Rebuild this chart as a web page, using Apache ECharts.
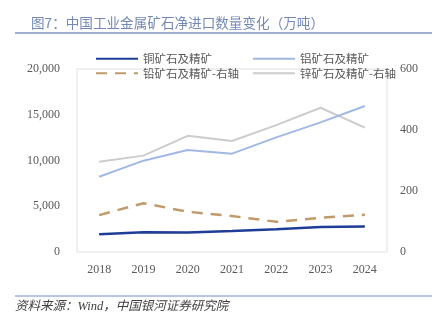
<!DOCTYPE html>
<html><head><meta charset="utf-8">
<script src="https://cdn.jsdelivr.net/npm/echarts@6/dist/echarts.min.js"></script>
<style>html,body{margin:0;padding:0;background:#fff}#c{width:438px;height:326px}</style>
</head><body><div id="c"></div>
<script>
const years = ['2018','2019','2020','2021','2022','2023','2024'];
const copper = [1950, 2150, 2140, 2300, 2480, 2730, 2780];
const aluminum = [8230, 9980, 11150, 10750, 12530, 14170, 15960];
const lead = [121, 160, 132, 118, 99, 112, 122];
const zinc = [296, 316, 381, 364, 416, 473, 408];
const leftTicks = [0, 5000, 10000, 15000, 20000];
const rightTicks = [0, 200, 400, 600];

const chart = echarts.init(document.getElementById('c'));
const serif = '"Liberation Serif","DejaVu Serif",serif';
const cjk = '"Noto Sans CJK SC","Noto Sans",sans-serif';
chart.setOption({
  animation: false,
  backgroundColor: '#fff',
  title: {
    text: '图7：中国工业金属矿石净进口数量变化（万吨）',
    left: 26, top: 11,
    textStyle: {fontSize: 13.6, fontWeight: 'normal', color: '#7388b5', fontFamily: cjk}
  },
  graphic: [
    {type: 'line', shape: {x1: 15, y1: 33, x2: 432, y2: 33}, style: {stroke: '#7f93c0', lineWidth: 1.5}},
    {type: 'line', shape: {x1: 15, y1: 296, x2: 432, y2: 296}, style: {stroke: '#9fb2d6', lineWidth: 1.5}},
    {type: 'text', left: 15, top: 300, style: {text: '资料来源：Wind，中国银河证券研究院', fontSize: 12.5, fontStyle: 'italic', fill: '#404040', fontFamily: '"Liberation Serif","Noto Sans CJK SC",serif'}}
  ],
  legend: [
    {orient: 'vertical', left: 90, top: 48, itemWidth: 42, itemHeight: 10, itemGap: 3,
     itemStyle: {opacity: 0},
     data: ['铜矿石及精矿', '铅矿石及精矿-右轴'],
     textStyle: {fontSize: 11.5, color: '#595959', fontFamily: cjk}},
    {orient: 'vertical', left: 247, top: 48, itemWidth: 42, itemHeight: 10, itemGap: 3,
     itemStyle: {opacity: 0},
     data: ['铝矿石及精矿', '锌矿石及精矿-右轴'],
     textStyle: {fontSize: 11.5, color: '#595959', fontFamily: cjk}}
  ],
  grid: {left: 77, right: 51, top: 69, bottom: 74, show: true, borderColor: '#e0e0e0', borderWidth: 1},
  xAxis: {
    type: 'category', data: years, boundaryGap: true,
    axisLine: {show: false}, axisTick: {show: false},
    axisLabel: {margin: 12, fontSize: 12, color: '#595959', fontFamily: serif}
  },
  yAxis: [
    {type: 'value', min: leftTicks[0], max: leftTicks[leftTicks.length-1], interval: 5000,
     splitLine: {show: false}, axisLine: {show: false}, axisTick: {show: false},
     axisLabel: {margin: 17, fontSize: 12, color: '#595959', fontFamily: serif,
       formatter: v => v.toLocaleString('en-US')}},
    {type: 'value', min: rightTicks[0], max: rightTicks[rightTicks.length-1], interval: 200,
     splitLine: {show: false}, axisLine: {show: false}, axisTick: {show: false},
     axisLabel: {margin: 13, fontSize: 12, color: '#595959', fontFamily: serif}}
  ],
  series: [
    {name: '铜矿石及精矿', type: 'line', data: copper, yAxisIndex: 0, symbol: 'none',
     lineStyle: {color: '#1f3d97', width: 2.5}, itemStyle: {color: '#1f3d97'}, z: 5},
    {name: '铝矿石及精矿', type: 'line', data: aluminum, yAxisIndex: 0, symbol: 'none',
     lineStyle: {color: '#a2b8e4', width: 2}, itemStyle: {color: '#a2b8e4'}, z: 4},
    {name: '铅矿石及精矿-右轴', type: 'line', data: lead, yAxisIndex: 1, symbol: 'none',
     lineStyle: {color: '#c09a6b', width: 2.5, type: [11, 8]}, itemStyle: {color: '#c09a6b'}, z: 3},
    {name: '锌矿石及精矿-右轴', type: 'line', data: zinc, yAxisIndex: 1, symbol: 'none',
     lineStyle: {color: '#cccccc', width: 2}, itemStyle: {color: '#cccccc'}, z: 2}
  ]
});
</script></body></html>
